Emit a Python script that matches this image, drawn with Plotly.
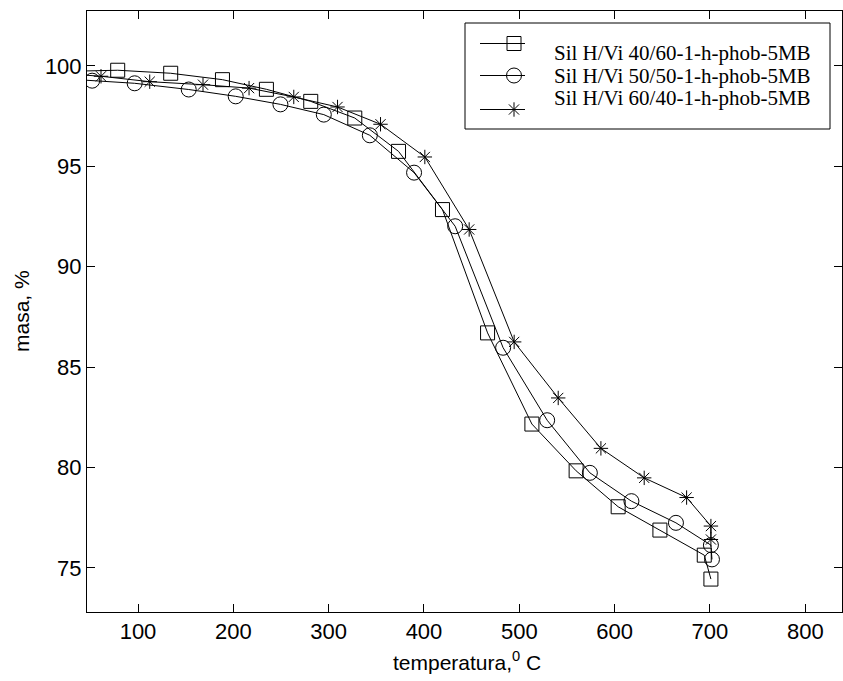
import plotly.graph_objects as go

# --- TGA data: temperature (deg C) and remaining mass (%) ---
# Sil H/Vi 40/60-1-h-phob-5MB
temp_a = [40.0, 78.7, 134.3, 188.6, 234.7, 281.2, 327.4, 373.3, 419.4, 466.7,
          513.2, 559.6, 603.7, 647.5, 694.0, 701.0]
mass_a = [99.74, 99.78, 99.63, 99.31, 98.83, 98.23, 97.40, 95.74, 92.84, 86.70,
          82.16, 79.83, 78.04, 76.88, 75.63, 74.44]

# Sil H/Vi 50/50-1-h-phob-5MB
temp_b = [40.0, 51.9, 96.5, 153.2, 202.5, 249.4, 294.9, 343.2, 389.6, 432.7,
          483.0, 529.2, 574.0, 617.6, 664.3, 701.0, 702.1]
mass_b = [99.30, 99.26, 99.13, 98.82, 98.48, 98.08, 97.57, 96.54, 94.68, 92.01,
          85.96, 82.35, 79.73, 78.32, 77.24, 76.13, 75.42]

# Sil H/Vi 60/40-1-h-phob-5MB
temp_c = [40.0, 61.2, 112.3, 168.2, 216.5, 263.4, 309.3, 354.4, 400.9, 447.4,
          494.6, 540.8, 585.6, 631.0, 675.5, 701.0, 701.0]
mass_c = [99.55, 99.48, 99.21, 99.06, 98.89, 98.45, 97.95, 97.09, 95.46, 91.85,
          86.25, 83.46, 80.95, 79.48, 78.50, 77.08, 76.41]

series_names = ["Sil H/Vi 40/60-1-h-phob-5MB",
                "Sil H/Vi 50/50-1-h-phob-5MB",
                "Sil H/Vi 60/40-1-h-phob-5MB"]
series_symbols = ["square-open", "circle-open", "asterisk-open"]
series_sizes = [14, 15, 12]

x_ticks = [100, 200, 300, 400, 500, 600, 700, 800]
y_ticks = [75, 80, 85, 90, 95, 100]

# --- page geometry (pixels) ---
W, H = 843, 681
L, R, T, B = 87, 1, 11, 69
PW, PH = W - L - R, H - T - B


def px(x):
    """Horizontal pixel position -> paper fraction."""
    return (x - L) / PW


def py(y):
    """Vertical pixel position -> paper fraction."""
    return (H - B - y) / PH


fig = go.Figure()

data = [(temp_a, mass_a), (temp_b, mass_b), (temp_c, mass_c)]
for (t, m), sym, sz in zip(data, series_symbols, series_sizes):
    # continuous curve
    fig.add_trace(go.Scatter(x=t, y=m, mode="lines",
                             line=dict(color="black", width=1),
                             showlegend=False, hoverinfo="skip"))
    # measurement markers (the first point only anchors the curve at the axis)
    fig.add_trace(go.Scatter(x=t[1:], y=m[1:], mode="markers",
                             marker=dict(symbol=sym, size=sz, color="black",
                                         line=dict(color="black", width=1)),
                             showlegend=False))

# --- legend box drawn on an overlay axis spanning the plot area ---
legend_line_x = [px(480), px(525)]
legend_marker_x = px(514)
legend_symbol_y = [43.5, 75.5, 109.5]
legend_text_y = [52.5, 75.5, 98.5]

for name, sym, sz, ys in zip(series_names, series_symbols, series_sizes, legend_symbol_y):
    fig.add_trace(go.Scatter(x=legend_line_x, y=[py(ys), py(ys)], mode="lines",
                             line=dict(color="black", width=1),
                             xaxis="x2", yaxis="y2", showlegend=False,
                             hoverinfo="skip"))
    fig.add_trace(go.Scatter(x=[legend_marker_x], y=[py(ys)], mode="markers",
                             marker=dict(symbol=sym, size=sz, color="black",
                                         line=dict(color="black", width=1)),
                             xaxis="x2", yaxis="y2", showlegend=False,
                             hoverinfo="skip", cliponaxis=False))

annotations = []
for name, ty in zip(series_names, legend_text_y):
    annotations.append(dict(x=px(552), y=py(ty), xref="paper", yref="paper",
                            text=name, showarrow=False, xanchor="left",
                            yanchor="middle",
                            font=dict(family="Liberation Serif", size=21,
                                      color="black")))

# axis titles
annotations.append(dict(x=px(467), y=py(661), xref="paper", yref="paper",
                        text="temperatura,<sup>0</sup> C", showarrow=False,
                        xanchor="center", yanchor="middle",
                        font=dict(family="Liberation Sans", size=21,
                                  color="black")))
annotations.append(dict(x=px(21), y=py(311), xref="paper", yref="paper",
                        text="masa, %", showarrow=False, textangle=-90,
                        xanchor="center", yanchor="middle",
                        font=dict(family="Liberation Sans", size=21,
                                  color="black")))

axis_common = dict(showgrid=False, zeroline=False, showline=True,
                   linecolor="black", linewidth=1, mirror="ticks",
                   ticks="inside", ticklen=8, tickwidth=1, tickcolor="black",
                   tickfont=dict(family="Liberation Sans", size=22,
                                 color="black"))

fig.update_layout(
    width=W, height=H,
    margin=dict(l=L, r=R, t=T, b=B, pad=0),
    paper_bgcolor="white", plot_bgcolor="white",
    xaxis=dict(range=[46.5, 838.5], tickvals=x_ticks, **axis_common),
    yaxis=dict(range=[72.8, 102.73], tickvals=y_ticks, **axis_common),
    xaxis2=dict(overlaying="x", range=[0, 1], visible=False, fixedrange=True),
    yaxis2=dict(overlaying="y", range=[0, 1], visible=False, fixedrange=True),
    shapes=[dict(type="rect", xref="paper", yref="paper",
                 x0=px(465), x1=px(830), y0=py(129), y1=py(23),
                 line=dict(color="black", width=1), layer="below",
                 fillcolor="white")],
    annotations=annotations,
    showlegend=False,
)

fig.write_html("out.html")
